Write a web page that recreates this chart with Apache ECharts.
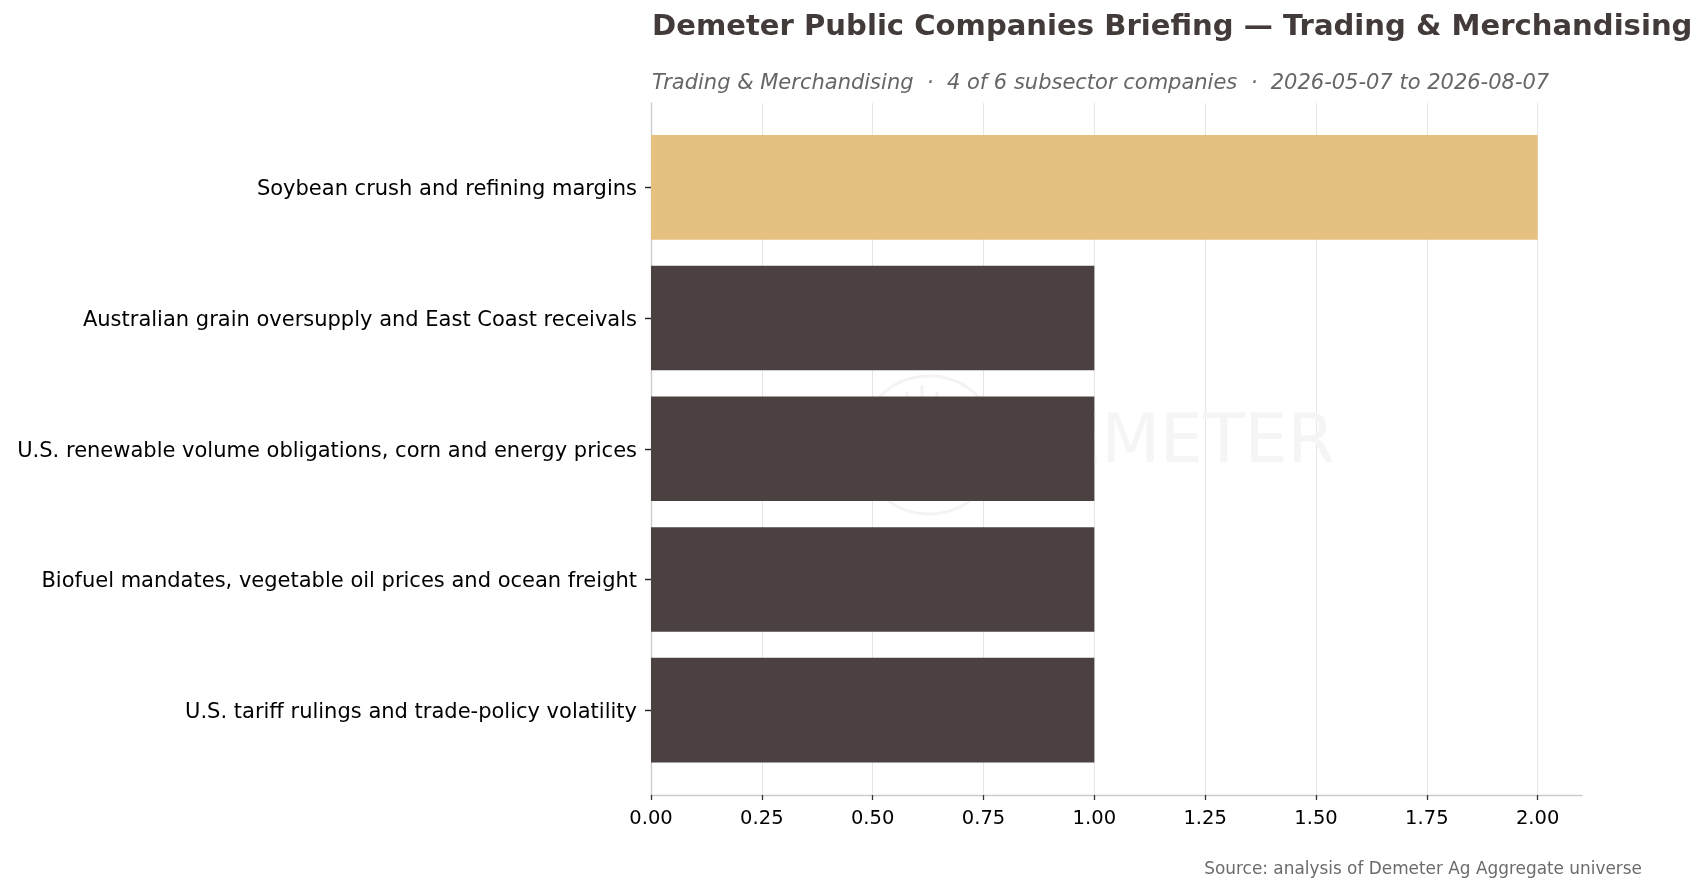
<!DOCTYPE html>
<html>
<head>
<meta charset="utf-8">
<script src="https://cdn.jsdelivr.net/npm/echarts@6/dist/echarts.min.js"></script>
<style>
html,body{margin:0;padding:0;background:#fff;}
#chart{width:1708px;height:892px;}
</style>
</head>
<body>
<div id="chart"></div>
<script>
const titleText = 'Demeter Public Companies Briefing — Trading & Merchandising';
const subtitleText = 'Trading & Merchandising  ·  4 of 6 subsector companies  ·  2026-05-07 to 2026-08-07';
const sourceText = 'Source: analysis of Demeter Ag Aggregate universe';
const categories = [
  'Soybean crush and refining margins',
  'Australian grain oversupply and East Coast receivals',
  'U.S. renewable volume obligations, corn and energy prices',
  'Biofuel mandates, vegetable oil prices and ocean freight',
  'U.S. tariff rulings and trade-policy volatility'
];
const values = [2, 1, 1, 1, 1];
const xTicks = [0, 0.25, 0.5, 0.75, 1.0, 1.25, 1.5, 1.75, 2.0];
const xMax = 2.1;

const FONT = 'DejaVu Sans';
const GOLD = '#E6C07F';
const DARK = '#4A4140';
const maxVal = Math.max(...values);

const chart = echarts.init(document.getElementById('chart'), null, {renderer: 'canvas'});
const gridLeft = 651, gridRight = 126;
chart.setOption({
  backgroundColor: '#ffffff',
  animation: false,
  title: [
    {text: titleText, left: 652, top: 12.8, padding: 0,
     textStyle: {fontFamily: FONT, fontSize: 29.1, fontWeight: 'bold', color: '#433B3A'}},
    {text: subtitleText, left: 652, top: 72.6, padding: 0,
     textStyle: {fontFamily: FONT, fontSize: 21, fontStyle: 'italic', fontWeight: 'normal', color: '#666666'}},
    {text: sourceText, right: 66, top: 861.5, padding: 0,
     textStyle: {fontFamily: FONT, fontSize: 16.9, fontWeight: 'normal', color: '#6b6b6b'}}
  ],
  graphic: [
    {type: 'circle', z: 1, silent: true, shape: {cx: 929, cy: 445, r: 69},
     style: {fill: 'none', stroke: '#f3f3f3', lineWidth: 3}},
    {type: 'line', z: 1, silent: true, shape: {x1: 907, y1: 392, x2: 907, y2: 425}, style: {stroke: '#f3f3f3', lineWidth: 3}},
    {type: 'line', z: 1, silent: true, shape: {x1: 922, y1: 385, x2: 922, y2: 425}, style: {stroke: '#f3f3f3', lineWidth: 3}},
    {type: 'line', z: 1, silent: true, shape: {x1: 937, y1: 392, x2: 937, y2: 425}, style: {stroke: '#f3f3f3', lineWidth: 3}},
    {type: 'text', z: 1, silent: true, x: 1006, y: 478,
     style: {text: 'DEMETER', fontFamily: FONT, fontSize: 68, fill: '#f5f5f5', textVerticalAlign: 'bottom', verticalAlign: 'alphabetic', textBaseline: 'alphabetic'}}
  ],
  grid: [
    {left: gridLeft, right: gridRight, top: 103, height: 692, containLabel: false},
    {left: gridLeft, right: gridRight, top: 122, height: 653.5, containLabel: false}
  ],
  xAxis: [
    {type: 'value', gridIndex: 0, min: 0, max: xMax, interval: 0.25,
     axisLine: {show: true, onZero: false, lineStyle: {color: '#cccccc', width: 1.4}},
     axisTick: {show: true, length: 5, customValues: xTicks, lineStyle: {color: '#333333', width: 1.3}},
     axisLabel: {show: true, margin: 14, customValues: xTicks, fontFamily: FONT, fontSize: 19.5, color: '#000000',
       formatter: v => Number(v).toFixed(2)},
     splitLine: {show: true, lineStyle: {color: ['#e6e6e6','#e6e6e6','#e6e6e6','#e6e6e6','#e6e6e6','#e6e6e6','#e6e6e6','#e6e6e6','#e6e6e6','rgba(0,0,0,0)'], width: 1}}},
    {type: 'value', gridIndex: 1, min: 0, max: xMax, show: false, splitLine: {show: false}}
  ],
  yAxis: [
    {type: 'value', gridIndex: 0, min: 0, max: 1,
     axisLine: {show: true, onZero: false, lineStyle: {color: '#cccccc', width: 1.4}},
     axisTick: {show: false}, axisLabel: {show: false}, splitLine: {show: false}},
    {type: 'category', gridIndex: 1, inverse: true, data: categories,
     axisLine: {show: false},
     axisTick: {show: true, alignWithLabel: true, length: 6, lineStyle: {color: '#222222', width: 1.4}},
     axisLabel: {margin: 14, fontFamily: FONT, fontSize: 21, color: '#000000',
       formatter: v => '{a|' + v + '}',
       rich: {a: {fontFamily: FONT, fontSize: 21, color: '#000000', padding: [5, 0, 0, 0]}}},
     splitLine: {show: false}}
  ],
  series: [
    {type: 'bar', xAxisIndex: 1, yAxisIndex: 1, data: values, barWidth: '80%', z: 3,
     itemStyle: {color: p => (p.value === maxVal ? GOLD : DARK)}}
  ]
});
</script>
</body>
</html>
